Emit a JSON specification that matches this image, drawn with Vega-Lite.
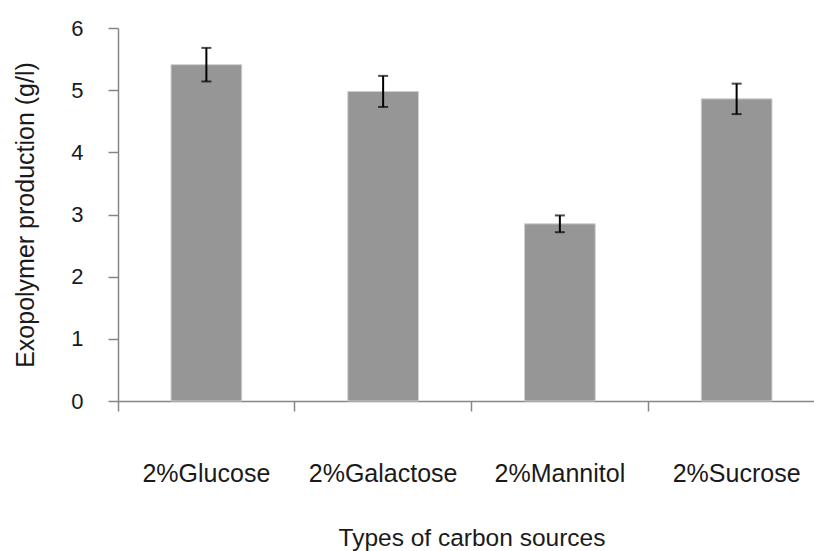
{
  "$schema": "https://vega.github.io/schema/vega-lite/v6.json",
  "width": 707,
  "height": 373,
  "autosize": {"type": "none"},
  "padding": {"left": 118, "top": 28, "right": 0, "bottom": 150},
  "background": "white",
  "config": {
    "view": {"stroke": null},
    "font": "Liberation Sans",
    "axis": {"grid": false, "domainColor": "#868686", "tickColor": "#868686", "domainWidth": 1.5, "tickWidth": 1.5, "labelColor": "#1a1a1a", "titleColor": "#1a1a1a", "titleFontWeight": "normal"}
  },
  "data": {
    "values": [
      {"source": "2%Glucose", "value": 5.41, "err": 0.27},
      {"source": "2%Galactose", "value": 4.98, "err": 0.25},
      {"source": "2%Mannitol", "value": 2.85, "err": 0.135},
      {"source": "2%Sucrose", "value": 4.86, "err": 0.245}
    ]
  },
  "encoding": {
    "x": {
      "field": "source",
      "type": "nominal",
      "sort": null,
      "scale": {"paddingInner": 0.6, "paddingOuter": 0.3},
      "axis": {
        "title": "Types of carbon sources",
        "labelAngle": 0,
        "labelFontSize": 25,
        "titleFontSize": 24.5,
        "tickSize": 10,
        "bandPosition": -0.75,
        "labelPadding": 50,
        "titlePadding": 40
      }
    }
  },
  "layer": [
    {
      "mark": {"type": "bar", "color": "#969696", "stroke": "#cfcfcf", "strokeWidth": 1},
      "encoding": {
        "y": {
          "field": "value",
          "type": "quantitative",
          "scale": {"domain": [0, 6]},
          "axis": {
            "title": "Exopolymer production (g/l)",
            "values": [0, 1, 2, 3, 4, 5, 6],
            "format": "d",
            "labelFontSize": 22,
            "titleFontSize": 25,
            "tickSize": 10,
            "labelPadding": 25,
            "titlePadding": 32
          }
        }
      }
    },
    {
      "mark": {"type": "errorbar", "ticks": {"size": 10, "thickness": 2, "color": "black"}, "thickness": 2, "color": "black"},
      "encoding": {
        "y": {"field": "value", "type": "quantitative", "title": "Exopolymer production (g/l)"},
        "yError": {"field": "err"}
      }
    }
  ]
}
